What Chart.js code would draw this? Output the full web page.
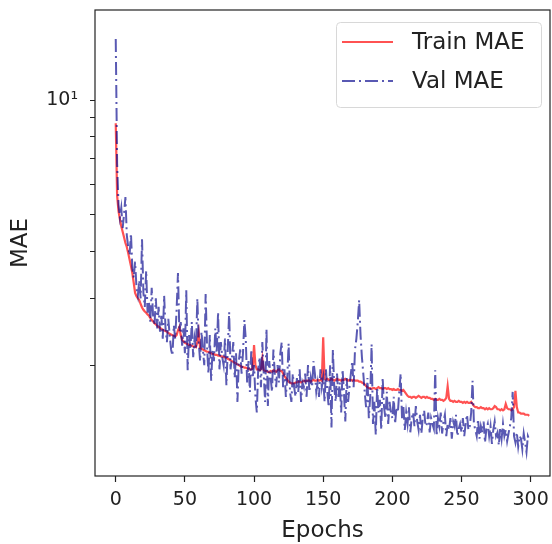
<!DOCTYPE html>
<html>
<head>
<meta charset="utf-8">
<script src="https://cdn.jsdelivr.net/npm/chart.js@4.4.1/dist/chart.umd.min.js"></script>
<style>
  html, body { margin: 0; padding: 0; background: #fff; }
  canvas { display: block; }
</style>
</head>
<body>
<canvas id="maeChart" width="552" height="544"></canvas>
<script>
// training curves, one value per epoch (0..299)
const trainMae = [
  8.7, 5.6, 5.1, 4.85, 4.65, 4.5, 4.35, 4.2, 4.1, 3.95,
  3.8, 3.65, 3.5, 3.3, 3.1, 3.04, 3.0, 2.97, 2.9, 2.84,
  2.8, 2.77, 2.75, 2.72, 2.7, 2.66, 2.63, 2.61, 2.58, 2.56,
  2.54, 2.52, 2.51, 2.49, 2.48, 2.47, 2.46, 2.45, 2.43, 2.42,
  2.41, 2.4, 2.39, 2.38, 2.4, 2.47, 2.52, 2.4, 2.33, 2.31,
  2.29, 2.28, 2.27, 2.26, 2.26, 2.25, 2.24, 2.24, 2.23, 2.3,
  2.44, 2.22, 2.21, 2.2, 2.19, 2.18, 2.17, 2.17, 2.16, 2.15,
  2.14, 2.14, 2.13, 2.13, 2.12, 2.12, 2.11, 2.11, 2.1, 2.1,
  2.09, 2.08, 2.07, 2.06, 2.05, 2.04, 2.03, 2.02, 2.01, 2.0,
  1.99, 1.98, 1.98, 1.97, 1.97, 1.96, 1.96, 1.95, 1.95, 1.96,
  2.26, 2.0, 1.95, 1.95, 1.94, 1.95, 2.08, 1.94, 1.93, 1.93,
  1.92, 1.92, 1.93, 1.92, 1.94, 1.93, 1.92, 1.94, 1.95, 1.93,
  1.93, 1.9, 1.87, 1.85, 1.83, 1.81, 1.8, 1.79, 1.79, 1.79,
  1.8, 1.8, 1.81, 1.81, 1.8, 1.81, 1.82, 1.81, 1.82, 1.82,
  1.82, 1.81, 1.82, 1.83, 1.82, 1.82, 1.83, 1.82, 1.83, 1.82,
  2.37, 1.84, 1.83, 1.84, 1.83, 1.83, 1.84, 1.83, 1.82, 1.83,
  1.84, 1.83, 1.83, 1.82, 1.83, 1.83, 1.84, 1.83, 1.82, 1.83,
  1.83, 1.82, 1.83, 1.82, 1.82, 1.82, 1.81, 1.81, 1.8, 1.79,
  1.78, 1.76, 1.75, 1.74, 1.74, 1.73, 1.74, 1.74, 1.73, 1.74,
  1.75, 1.74, 1.74, 1.73, 1.74, 1.74, 1.73, 1.74, 1.73, 1.73,
  1.72, 1.73, 1.72, 1.72, 1.73, 1.72, 1.72, 1.71, 1.72, 1.7,
  1.68, 1.66, 1.65, 1.65, 1.64, 1.65, 1.65, 1.64, 1.65, 1.66,
  1.65, 1.64, 1.65, 1.65, 1.64, 1.65, 1.64, 1.64, 1.63, 1.63,
  1.62, 1.63, 1.62, 1.62, 1.63, 1.62, 1.62, 1.61, 1.62, 1.64,
  1.76, 1.63, 1.61, 1.61, 1.6, 1.61, 1.6, 1.6, 1.61, 1.6,
  1.6, 1.59, 1.6, 1.59, 1.6, 1.59, 1.59, 1.6, 1.58, 1.56,
  1.55, 1.55, 1.54, 1.54, 1.55, 1.54, 1.54, 1.53, 1.54, 1.53,
  1.54, 1.53, 1.53, 1.54, 1.56, 1.55, 1.53, 1.53, 1.52, 1.53,
  1.52, 1.53, 1.58, 1.54, 1.53, 1.53, 1.52, 1.53, 1.55, 1.71,
  1.55, 1.5, 1.5, 1.49, 1.49, 1.49, 1.48, 1.48, 1.48, 1.47
];

const valMae = [
  14.5, 6.8, 5.3, 4.9, 5.2, 4.6, 5.0, 5.55, 4.4, 4.1,
  3.9, 4.45, 3.6, 3.4, 3.75, 3.2, 3.05, 3.35, 3.0, 4.3,
  3.1, 2.85, 3.55, 2.75, 2.95, 2.6, 3.2, 2.7, 2.55, 3.0,
  2.5, 2.85, 2.45, 2.7, 2.35, 3.05, 2.5, 2.3, 2.65, 2.4,
  2.2, 2.12, 2.55, 2.35, 2.8, 3.5, 2.45, 2.6, 2.25, 2.5,
  2.15, 3.15, 1.94, 2.4, 2.2, 2.6, 2.1, 2.35, 2.2, 3.0,
  2.3, 2.05, 2.45, 2.2, 2.0, 3.08, 2.25, 1.9, 2.4, 1.82,
  2.2, 2.05, 2.5, 2.15, 2.76, 1.95, 2.3, 2.1, 2.0, 2.35,
  1.77, 2.2, 2.76, 1.95, 2.1, 2.3, 1.85, 2.15, 1.6, 2.05,
  2.2, 1.9, 2.15, 2.63, 2.35, 1.8, 2.05, 1.7, 2.2, 1.85,
  2.0, 1.65, 1.5, 1.95, 2.1, 1.75, 2.3, 1.9, 1.6, 2.49,
  1.56, 2.05, 1.85, 1.7, 2.2, 1.9, 1.75, 2.0, 1.8, 2.15,
  2.3, 1.75, 1.95, 1.65, 1.85, 2.28, 1.7, 1.6, 1.9, 1.75,
  1.65, 1.85, 1.7, 1.95, 1.6, 1.8, 1.75, 1.9, 1.65, 2.0,
  1.7, 1.85, 1.75, 2.05, 1.9, 1.7, 1.8, 1.65, 1.95, 1.75,
  1.85, 1.6, 1.95, 1.7, 1.55, 2.0, 1.37, 2.2, 1.75, 1.6,
  1.9, 1.65, 1.8, 1.5, 1.95, 1.7, 1.42, 1.85, 1.6, 1.75,
  1.9, 2.05, 1.75, 2.2, 2.35, 2.6, 2.97, 2.4, 2.1, 1.9,
  1.7, 1.55, 1.85, 1.45, 1.65, 2.27, 1.4, 1.6, 1.31, 1.75,
  1.5, 1.62, 1.35, 1.85, 1.55, 1.45, 1.7, 1.4, 1.6, 1.5,
  1.45, 1.65, 1.4, 1.55, 1.5, 1.7, 1.9, 1.45, 1.55, 1.35,
  1.5, 1.4, 1.55, 1.33, 1.45, 1.5, 1.38, 1.56, 1.42, 1.35,
  1.48, 1.32, 1.45, 1.52, 1.38, 1.4, 1.5, 1.33, 1.45, 1.4,
  1.36, 1.94, 1.3, 1.45, 1.38, 1.5, 1.32, 1.42, 1.48, 1.3,
  1.4, 1.35, 1.45, 1.28, 1.42, 1.38, 1.48, 1.3, 1.36, 1.4,
  1.33, 1.45, 1.3, 1.4, 1.48, 1.35, 1.38, 1.5, 1.82, 1.4,
  1.35, 1.3, 1.44, 1.28, 1.38, 1.33, 1.42, 1.25, 1.36, 1.4,
  1.3, 1.38, 1.24, 1.35, 1.42, 1.3, 1.33, 1.23, 1.37, 1.28,
  1.4, 1.3, 1.35, 1.26, 1.32, 1.38, 1.45, 1.7, 1.3, 1.25,
  1.33, 1.22, 1.3, 1.28, 1.2, 1.32, 1.25, 1.18, 1.3, 1.27
];

const xTicks = [0, 50, 100, 150, 200, 250, 300];
const yTicks = [2, 3, 4, 5, 6, 7, 8, 9, 10];
const seriesLabels = ['Train MAE', 'Val MAE'];

const FONT = 'DejaVu Sans';
const RED = 'rgba(255, 0, 0, 0.68)';
const BLUE = 'rgba(0, 0, 139, 0.65)';
const DASHDOT = [13, 4, 2, 4];

// epoch number = position in the array
const toPoints = arr => arr.map((v, i) => ({ x: i, y: v }));

// box around the plot + legend inside the top right corner
const framePlugin = {
    id: 'frame',
    afterDraw(chart) {
        const { ctx, chartArea: a } = chart;
        ctx.save();
        ctx.strokeStyle = '#222';
        ctx.lineWidth = 1.2;
        ctx.strokeRect(a.left, a.top, a.right - a.left, a.bottom - a.top);

        // legend
        const bx = 336, by = 22, bw = 205, bh = 85;
        ctx.fillStyle = 'rgba(255,255,255,0.8)';
        ctx.strokeStyle = '#d8d8d8';
        ctx.lineWidth = 1;
        ctx.beginPath();
        ctx.roundRect(bx + 0.5, by + 0.5, bw, bh, 4);
        ctx.fill();
        ctx.stroke();

        const rows = [
            { y: 42, color: RED, dash: [] },
            { y: 81, color: BLUE, dash: DASHDOT }
        ];
        ctx.font = `23px "${FONT}"`;
        ctx.textBaseline = 'middle';
        rows.forEach((r, i) => {
            ctx.strokeStyle = r.color;
            ctx.lineWidth = 2.2;
            ctx.setLineDash(r.dash);
            ctx.beginPath();
            ctx.moveTo(342, r.y);
            ctx.lineTo(393, r.y);
            ctx.stroke();
            ctx.setLineDash([]);
            ctx.fillStyle = '#222';
            ctx.fillText(seriesLabels[i], 412, r.y + 1);
        });
        ctx.restore();
    }
};

new Chart(document.getElementById('maeChart'), {
    type: 'line',
    data: {
        datasets: [
            {
                label: seriesLabels[0],
                data: toPoints(trainMae),
                borderColor: RED,
                borderWidth: 2.2,
                pointRadius: 0,
                tension: 0,
                order: 2
            },
            {
                label: seriesLabels[1],
                data: toPoints(valMae),
                borderColor: BLUE,
                borderWidth: 2,
                borderDash: DASHDOT,
                pointRadius: 0,
                tension: 0,
                order: 1
            }
        ]
    },
    options: {
        responsive: false,
        animation: false,
        layout: { padding: { top: 10, right: 2, left: 0, bottom: 0 } },
        plugins: {
            legend: { display: false },
            tooltip: { enabled: false }
        },
        scales: {
            x: {
                type: 'linear',
                min: -15,
                max: 314,
                afterBuildTicks: s => { s.ticks = xTicks.map(v => ({ value: v })); },
                afterFit: s => { s.height = 68; s.paddingLeft = 0; s.paddingRight = 0; },
                border: { display: false },
                grid: { drawOnChartArea: false, tickLength: 6, tickColor: '#222', tickWidth: 1.2 },
                ticks: { color: '#222', padding: 7, maxRotation: 0, font: { family: FONT, size: 19 } },
                title: { display: true, text: 'Epochs', color: '#222', padding: { top: 0, bottom: 0 }, font: { family: FONT, size: 23, lineHeight: 1.1 } }
            },
            y: {
                type: 'logarithmic',
                min: 1.02,
                max: 17.3,
                afterBuildTicks: s => { s.ticks = yTicks.map(v => ({ value: v, major: v === 10 })); },
                afterFit: s => { s.width = 95; s.paddingTop = 0; s.paddingBottom = 0; },
                border: { display: false },
                grid: { drawOnChartArea: false, tickLength: 5, tickColor: '#222', tickWidth: 1 },
                ticks: {
                    color: '#222',
                    padding: 12,
                    autoSkip: false,
                    font: { family: FONT, size: 19 },
                    callback: v => (v === 10 ? '10¹' : '')
                },
                title: { display: true, text: 'MAE', color: '#222', padding: { top: 7, bottom: 0 }, font: { family: FONT, size: 23 } }
            }
        }
    },
    plugins: [framePlugin]
});
</script>
</body>
</html>
